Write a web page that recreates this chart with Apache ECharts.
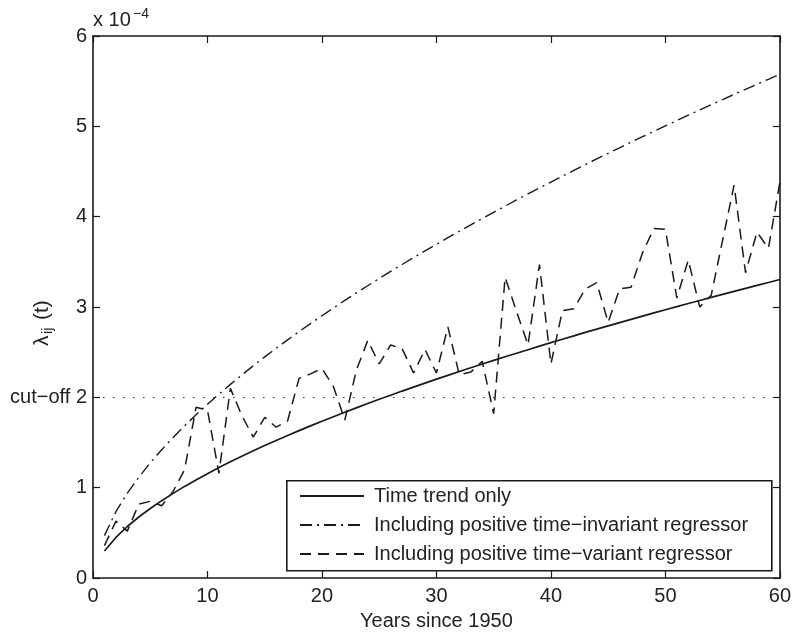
<!DOCTYPE html>
<html>
<head>
<meta charset="utf-8">
<script src="https://cdn.jsdelivr.net/npm/echarts@6/dist/echarts.min.js"></script>
<style>
html,body{margin:0;padding:0;background:#fff;}
#chart{width:794px;height:636px;}
</style>
</head>
<body>
<div id="chart"></div>
<script>
const years = [1,2,3,4,5,6,7,8,9,10,11,12,13,14,15,16,17,18,19,20,21,22,23,24,25,26,27,28,29,30,31,32,33,34,35,36,37,38,39,40,41,42,43,44,45,46,47,48,49,50,51,52,53,54,55,56,57,58,59,60];
const trendOnly = [0.300,0.450,0.571,0.676,0.770,0.857,0.938,1.015,1.087,1.156,1.223,1.287,1.349,1.409,1.467,1.523,1.578,1.632,1.685,1.736,1.786,1.836,1.884,1.932,1.979,2.024,2.070,2.114,2.158,2.202,2.244,2.286,2.328,2.369,2.410,2.450,2.489,2.528,2.567,2.606,2.644,2.681,2.719,2.755,2.792,2.828,2.864,2.900,2.935,2.970,3.004,3.039,3.073,3.107,3.141,3.174,3.207,3.240,3.272,3.305];
const invariantReg = [0.470,0.735,0.941,1.116,1.275,1.420,1.557,1.685,1.807,1.924,2.036,2.144,2.249,2.350,2.448,2.544,2.637,2.728,2.817,2.904,2.989,3.073,3.156,3.236,3.316,3.394,3.471,3.547,3.621,3.695,3.768,3.839,3.910,3.980,4.049,4.117,4.185,4.252,4.318,4.384,4.448,4.512,4.576,4.639,4.702,4.763,4.825,4.885,4.945,5.005,5.064,5.123,5.182,5.240,5.296,5.354,5.410,5.466,5.521,5.577];
const variantReg = [0.36,0.63,0.52,0.82,0.85,0.80,0.96,1.20,1.89,1.86,1.16,2.10,1.80,1.56,1.78,1.67,1.74,2.21,2.26,2.32,2.12,1.75,2.30,2.63,2.37,2.58,2.54,2.27,2.53,2.27,2.78,2.25,2.28,2.40,1.82,3.33,2.95,2.58,3.47,2.37,2.96,2.98,3.20,3.27,2.83,3.20,3.22,3.60,3.87,3.86,3.10,3.52,3.00,3.13,3.74,4.35,3.38,3.83,3.65,4.38];
const cutoff = 2;
const yTickLabels = ['0','1','cut\u2212off 2','3','4','5','6'];
const seriesNames = ['Time trend only','Including positive time\u2212invariant regressor','Including positive time\u2212variant regressor'];
const xName = 'Years since 1950';

const FONT = 'Liberation Sans, Arial, Helvetica, sans-serif';
const INK = '#1a1a1a';
const pairs = arr => years.map((y, i) => [y, arr[i]]);

const chart = echarts.init(document.getElementById('chart'), null, {renderer: 'canvas'});

const axisCommon = {
  axisLine: {show: true, onZero: false, lineStyle: {color: INK, width: 1.6}},
  axisTick: {show: true, inside: true, length: 7, lineStyle: {color: INK, width: 1.2}},
  splitLine: {show: false}
};

chart.setOption({
  animation: false,
  backgroundColor: '#fff',
  grid: {left: 93, right: 13, top: 36, bottom: 55, containLabel: false},
  xAxis: [
    Object.assign({}, axisCommon, {
      type: 'value', min: 0, max: 60, interval: 10, position: 'bottom',
      name: xName, nameLocation: 'middle', nameGap: 27,
      nameTextStyle: {fontFamily: FONT, fontSize: 20, color: '#222'},
      axisLabel: {fontFamily: FONT, fontSize: 20, color: '#222', margin: 8}
    }),
    Object.assign({}, axisCommon, {
      type: 'value', min: 0, max: 60, interval: 10, position: 'top',
      axisLabel: {show: false}
    })
  ],
  yAxis: [
    Object.assign({}, axisCommon, {
      type: 'value', min: 0, max: 6, interval: 1, position: 'left',
      axisLabel: {fontFamily: FONT, fontSize: 20, color: '#222', margin: 6,
        formatter: (v) => yTickLabels[Math.round(v)]}
    }),
    Object.assign({}, axisCommon, {
      type: 'value', min: 0, max: 6, interval: 1, position: 'right',
      axisLabel: {show: false}
    })
  ],
  legend: {
    orient: 'vertical', left: 299, top: 485, padding: 0,
    itemWidth: 64, itemHeight: 14, itemGap: 7, z: 10,
    data: seriesNames,
    itemStyle: {opacity: 0},
    textStyle: {fontFamily: FONT, fontSize: 20, color: '#222', lineHeight: 22, padding: [0, 0, 0, 5]}
  },
  series: [
    {
      name: seriesNames[0], type: 'line', data: pairs(trendOnly), symbol: 'none',
      lineStyle: {color: INK, width: 1.7, type: 'solid'}, itemStyle: {color: INK},
      markLine: {
        silent: true, symbol: ['none', 'none'], label: {show: false},
        lineStyle: {color: '#333', width: 1.2, type: [1.5, 8.5]},
        data: [{yAxis: cutoff}]
      }
    },
    {
      name: seriesNames[1], type: 'line', data: pairs(invariantReg), symbol: 'none',
      lineStyle: {color: INK, width: 1.4, type: [12, 5, 2, 5]}, itemStyle: {color: INK}
    },
    {
      name: seriesNames[2], type: 'line', data: pairs(variantReg), symbol: 'none',
      lineStyle: {color: INK, width: 1.5, type: [11, 7]}, itemStyle: {color: INK}
    }
  ],
  graphic: [
    {type: 'rect', left: 286, top: 480, z: 5, shape: {width: 485, height: 90},
     style: {fill: '#fff', stroke: INK, lineWidth: 1.6}},
    {type: 'text', x: 93, y: 20, z: 10,
     style: {text: 'x 10', font: '20px ' + FONT, fill: '#222', textVerticalAlign: 'middle', textAlign: 'left'}},
    {type: 'text', x: 133, y: 14, z: 10,
     style: {text: '\u22124', font: '14px ' + FONT, fill: '#222', textVerticalAlign: 'middle', textAlign: 'left'}},
    {type: 'group', x: 42, y: 320, rotation: Math.PI / 2, z: 10,
     children: [
       {type: 'text', x: -26, y: 0, style: {text: '\u03bb', font: '21px ' + FONT, fill: '#222', textVerticalAlign: 'middle', textAlign: 'left'}},
       {type: 'text', x: -14, y: 6, style: {text: 'ij', font: '15px ' + FONT, fill: '#222', textVerticalAlign: 'middle', textAlign: 'left'}},
       {type: 'text', x: 0, y: 0, style: {text: '(t)', font: '21px ' + FONT, fill: '#222', textVerticalAlign: 'middle', textAlign: 'left'}}
     ]}
  ]
});
</script>
</body>
</html>
